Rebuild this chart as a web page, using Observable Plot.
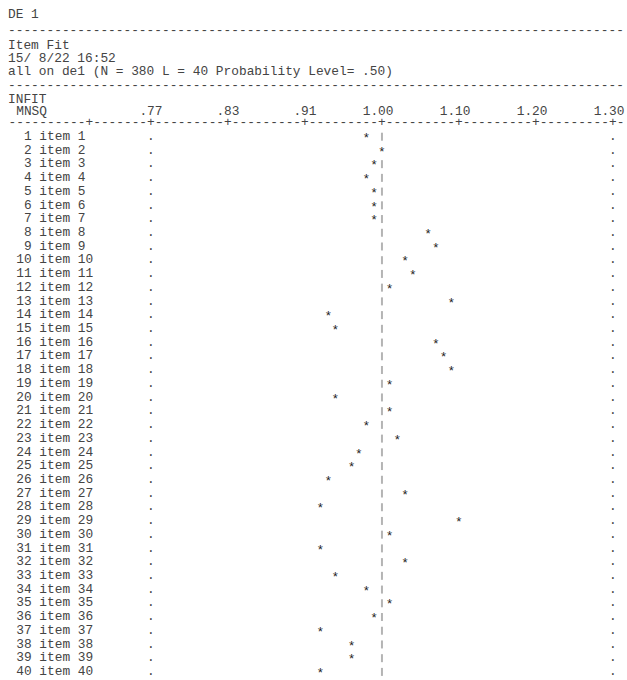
<!DOCTYPE html>
<html><head><meta charset="utf-8">
<script src="https://cdn.jsdelivr.net/npm/d3@7"></script>
<script src="https://cdn.jsdelivr.net/npm/@observablehq/plot@0.6"></script>
<style>
html,body{margin:0;padding:0;background:#fff;overflow:hidden;}
#page{position:relative;width:627px;height:680px;overflow:hidden;}
#head{position:relative;height:104px;font-family:"Liberation Mono",monospace;font-size:12.83px;color:#444;}
#head div{position:absolute;left:8px;line-height:13px;white-space:pre;}
#chart svg{display:block;}
svg text{white-space:pre;}
</style></head>
<body><div id="page"><div id="head"></div><div id="chart"></div></div>
<script>
// ---- data ----
const headerLines = ["DE 1", "-".repeat(80), "Item Fit", "15/ 8/22 16:52",
  "all on de1 (N = 380 L = 40 Probability Level= .50)", "-".repeat(80), "INFIT"];
const axisTitle = "MNSQ";
const tickLabels = [".77", ".83", ".91", "1.00", "1.10", "1.20", "1.30"];
const tickPositions = [-0.3, -0.2, -0.1, 0, 0.1, 0.2, 0.3]; // fit scale units (1 - 1/MNSQ below 1, MNSQ - 1 above)
const itemIds = Array.from({length: 40}, (_, i) => i + 1);
const itemNames = itemIds.map(i => "item " + i);
const infit = [0.980, 1.000, 0.990, 0.980, 0.990, 0.990, 0.990, 1.060, 1.070, 1.030,
               1.040, 1.010, 1.090, 0.935, 0.943, 1.070, 1.080, 1.090, 1.010, 0.943,
               1.010, 0.980, 1.020, 0.971, 0.962, 0.935, 1.030, 0.926, 1.100, 1.010,
               0.926, 1.030, 0.943, 0.980, 1.010, 0.990, 0.926, 0.962, 0.962, 0.926];

// ---- layout ----
const headerTops = [7.6, 23.7, 39.3, 51.8, 64.6, 78.7, 92.6];
const head = document.getElementById("head");
headerLines.forEach((t, i) => {
  const d = document.createElement("div");
  d.textContent = t; d.style.top = headerTops[i] + "px";
  head.appendChild(d);
});

const fitPos = v => v >= 1 ? v - 1 : 1 - 1 / v;
const rows = itemIds.map((id, i) => ({id, name: itemNames[i], mnsq: infit[i], pos: fitPos(infit[i])}));
const labelOf = new Map(tickPositions.map((p, i) => [p, tickLabels[i]]));
const tickCols = new Set([10, ...tickPositions.map(p => 48 + Math.round(p * 100))]);
const tickLine = Array.from({length: 80}, (_, c) => tickCols.has(c) ? "+" : "-").join("");
const NB = "\u00a0";

const mt = 24.44;
const chart = Plot.plot({
  width: 627, height: 576,
  marginLeft: 8, marginRight: 3, marginTop: mt, marginBottom: 2.64,
  style: {fontFamily: '"Liberation Mono", monospace', fontSize: "12.83px", color: "#444", background: "#fff"},
  x: {domain: [-0.485, 0.315], label: null},
  y: {type: "band", domain: itemIds, padding: 0, round: false, axis: null},
  marks: [
    Plot.axisX(tickPositions, {anchor: "top", label: null, tickSize: 0, tickPadding: 14.2, tickFormat: d => labelOf.get(d),
      textAnchor: "end", dx: 11.55, fill: "#444", fontSize: 12.83, fontFamily: '"Liberation Mono", monospace'}),
    Plot.text([NB + axisTitle], {text: d => d, frameAnchor: "top-left", lineAnchor: "middle", textAnchor: "start", dy: 6.1 - mt, fill: "#444"}),
    Plot.text([tickLine], {text: d => d, frameAnchor: "top-left", lineAnchor: "middle", textAnchor: "start", dy: 17.5 - mt, fill: "#444"}),
    Plot.text(rows, {y: "id", text: d => String(d.id).padStart(3, NB) + " " + d.name, frameAnchor: "left", lineAnchor: "middle", textAnchor: "start", fill: "#444"}),
    Plot.text(rows, {x: tickPositions[0], y: "id", text: () => ".", fill: "#444"}),
    Plot.text(rows, {x: tickPositions[tickPositions.length - 1], y: "id", text: () => ".", fill: "#444"}),
    Plot.tickX(rows.filter(d => Math.round(d.pos * 100) !== 0), {x: 0, y: "id", stroke: "#b4b4b4", strokeWidth: 2, insetTop: 4.26, insetBottom: 1.46}),
    Plot.text(rows, {x: "pos", y: "id", text: () => "*", dy: 2.0, fill: "#222"})
  ]
});
document.getElementById("chart").appendChild(chart);
</script>
</body></html>
